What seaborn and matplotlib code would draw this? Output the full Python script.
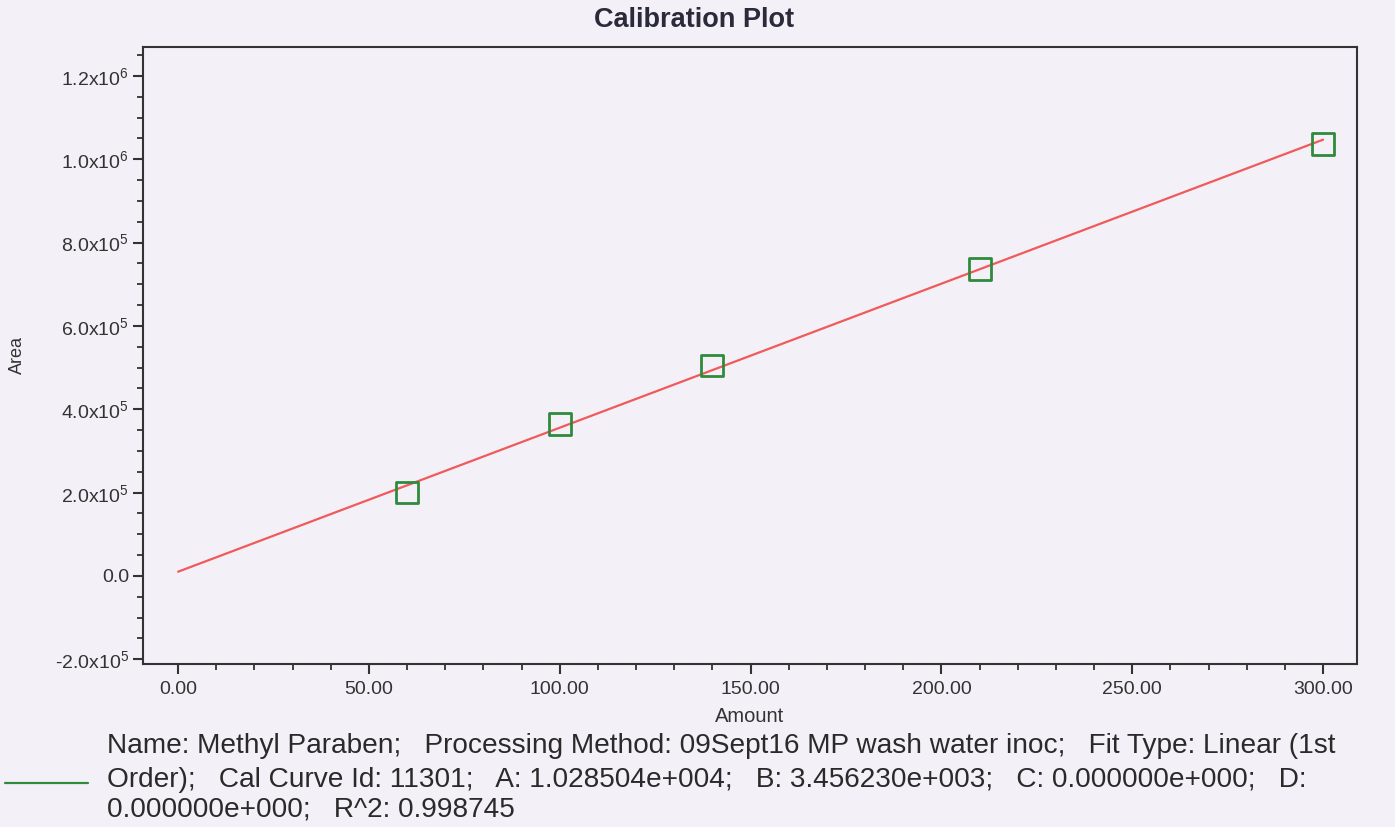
import matplotlib
matplotlib.use("Agg")
import math
import matplotlib.pyplot as plt
import seaborn as sns
import pandas as pd
from matplotlib.ticker import MultipleLocator, FuncFormatter

# ---- data ----
amount = [60, 100, 140, 210, 300]
area = [200400, 364800, 505200, 737300, 1036800]
fit_amount = [0, 300]
fit_area = [10285, 1047154]
x_ticks = [0, 50, 100, 150, 200, 250, 300]
y_ticks = [-200000, 0, 200000, 400000, 600000, 800000, 1000000, 1200000]
title = "Calibration Plot"
x_label = "Amount"
y_label = "Area"
info_lines = [
    "Name: Methyl Paraben;   Processing Method: 09Sept16 MP wash water inoc;   Fit Type: Linear (1st",
    "Order);   Cal Curve Id: 11301;   A: 1.028504e+004;   B: 3.456230e+003;   C: 0.000000e+000;   D:",
    "0.000000e+000;   R^2: 0.998745",
]

bg = "#F4F0F8"
sns.set_theme(style="ticks")
plt.rcParams["font.family"] = ["Liberation Sans", "DejaVu Sans"]
plt.rcParams["mathtext.fontset"] = "custom"
plt.rcParams["mathtext.rm"] = "Liberation Sans"

fig = plt.figure(figsize=(13.95, 8.27), dpi=100, facecolor=bg)
ax = fig.add_axes([0.1025, 0.1971, 0.8703, 0.7461], facecolor=bg)

pts = pd.DataFrame({"Amount": amount, "Area": area})
fit = pd.DataFrame({"Amount": fit_amount, "Area": fit_area})

sns.lineplot(data=fit, x="Amount", y="Area", ax=ax, color="#F05A5A", linewidth=1.6, zorder=2)
sns.scatterplot(data=pts, x="Amount", y="Area", ax=ax, marker="s", s=250,
                facecolors="none", edgecolor="#2F8A3C", linewidth=2.0, zorder=3)

ax.set_xlim(-9.2, 308.9)
ax.set_ylim(-211200, 1269600)
ax.set_xticks(x_ticks)
ax.set_yticks(y_ticks)
ax.xaxis.set_minor_locator(MultipleLocator(10))
ax.yaxis.set_minor_locator(MultipleLocator(50000))
ax.xaxis.set_major_formatter(FuncFormatter(lambda v, p: f"{v:.2f}"))


def yfmt(v, p):
    if abs(v) < 1e-9:
        return "0.0"
    e = int(math.floor(math.log10(abs(v))))
    m = abs(v) / 10 ** e
    sign = "-" if v < 0 else ""
    return sign + r"$\mathregular{%.1fx10^{%d}}$" % (m, e)


ax.yaxis.set_major_formatter(FuncFormatter(yfmt))

for s in ax.spines.values():
    s.set_color("#333333")
    s.set_linewidth(1.5)
ax.tick_params(axis="both", which="major", direction="out", length=7, width=1.5,
               color="#333333", labelsize=14, labelcolor="#333333", pad=3)
ax.tick_params(axis="x", which="major", pad=5)
ax.tick_params(axis="both", which="minor", direction="out", length=4.5, width=1.3,
               color="#333333")

ax.set_xlabel(x_label, fontsize=14.5, color="#333333", labelpad=7)
ax.set_ylabel(y_label, fontsize=13, color="#333333", labelpad=21)
fig.text(0.4975, 1 - 20 / 827, title, fontsize=19.5, fontweight="bold",
         color="#2a2a3a", ha="center", va="center")

# legend-like info block
fig.add_artist(plt.Line2D([5 / 1395, 88 / 1395], [1 - 783 / 827, 1 - 783 / 827],
                          color="#2F8A3C", linewidth=1.6, transform=fig.transFigure))
for yp, line in zip([746, 780, 810], info_lines):
    fig.text(107 / 1395, 1 - yp / 827, line, fontsize=20.2, color="#2a2a2a",
             va="center", ha="left")

fig.savefig("out.png", dpi=100, facecolor=bg)
